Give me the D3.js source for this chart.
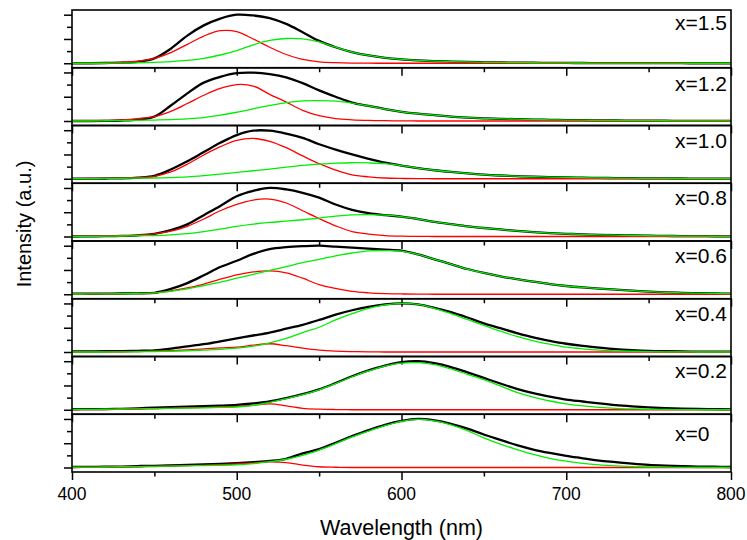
<!DOCTYPE html>
<html><head><meta charset="utf-8">
<script src="https://cdn.jsdelivr.net/npm/d3@7"></script>
<style>body{margin:0;background:#fff}svg{display:block}text{font-family:"Liberation Sans",Arial,sans-serif;fill:#000}</style>
</head><body><svg id="c" width="747" height="540"></svg>
<script>
const wavelength = [400,410,420,430,440,450,460,470,480,490,500,510,520,530,540,550,560,570,580,590,600,
  610,620,630,640,650,660,670,680,690,700,710,720,730,740,750,760,770,780,790,800];
const panelLabels = ["x=1.5","x=1.2","x=1.0","x=0.8","x=0.6","x=0.4","x=0.2","x=0"];
const xTickLabels = [400,500,600,700,800];
const xMinorTicks = [450,550,650,750];
const yMajorTicks = [0,0.5,1];
const yMinorTicks = [0.25,0.75];

// x = 1.5
const total_15 = [0,0,0.005,0.01,0.03,0.10,0.30,0.57,0.78,0.92,1.0,0.985,0.93,0.81,0.64,0.46,0.33,0.23,0.16,0.11,0.08,
  0.06,0.045,0.035,0.027,0.02,0.016,0.013,0.01,0.008,0.006,0.005,0.004,0.003,0.002,0.002,0.001,0.001,0,0,0];
const peak1_15 = [0,0.003,0.008,0.02,0.045,0.10,0.22,0.39,0.56,0.67,0.65,0.50,0.33,0.18,0.08,0.03,0.012,0.004,0.001,0,0,
  0,0,0,0,0,0,0,0,0,0,0,0,0,0,0,0,0,0,0,0];
const peak2_15 = [0,0,0,0.004,0.01,0.02,0.035,0.06,0.10,0.17,0.26,0.38,0.47,0.51,0.50,0.44,0.33,0.23,0.16,0.11,0.08,
  0.06,0.045,0.035,0.027,0.02,0.016,0.013,0.01,0.008,0.006,0.005,0.004,0.003,0.002,0.002,0.001,0.001,0,0,0];
// x = 1.2
const total_12 = [0,0,0.003,0.01,0.03,0.09,0.32,0.57,0.79,0.91,0.985,0.995,0.965,0.90,0.78,0.63,0.50,0.38,0.31,0.245,0.19,
  0.15,0.12,0.09,0.07,0.056,0.045,0.037,0.03,0.024,0.02,0.016,0.013,0.01,0.008,0.007,0.005,0.004,0.003,0.002,0.002];
const peak1_12 = [0.005,0.008,0.013,0.025,0.05,0.09,0.20,0.36,0.53,0.67,0.75,0.72,0.55,0.39,0.22,0.11,0.05,0.025,0.012,0.006,0.003,
  0,0,0,0,0,0,0,0,0,0,0,0,0,0,0,0,0,0,0,0];
const peak2_12 = [0,0,0.005,0.008,0.012,0.02,0.03,0.045,0.07,0.12,0.18,0.25,0.32,0.38,0.415,0.42,0.41,0.37,0.31,0.245,0.19,
  0.15,0.12,0.09,0.07,0.056,0.045,0.037,0.03,0.024,0.02,0.016,0.013,0.01,0.008,0.007,0.005,0.004,0.003,0.002,0.002];
// x = 1.0
const total_10 = [0,0.002,0.005,0.01,0.025,0.06,0.19,0.36,0.55,0.74,0.90,0.99,0.99,0.93,0.84,0.71,0.60,0.50,0.41,0.33,0.27,
  0.22,0.175,0.14,0.11,0.085,0.067,0.053,0.042,0.034,0.028,0.022,0.018,0.014,0.011,0.008,0.006,0.005,0.004,0.003,0.002];
const peak1_10 = [0.003,0.005,0.008,0.013,0.025,0.05,0.14,0.30,0.49,0.66,0.79,0.83,0.77,0.64,0.47,0.31,0.18,0.08,0.04,0.015,0.006,
  0.002,0,0,0,0,0,0,0,0,0,0,0,0,0,0,0,0,0,0,0];
const peak2_10 = [0,0.003,0.006,0.01,0.012,0.015,0.025,0.04,0.065,0.095,0.13,0.165,0.20,0.24,0.275,0.30,0.32,0.33,0.325,0.31,0.27,
  0.22,0.175,0.14,0.11,0.085,0.067,0.053,0.042,0.034,0.028,0.022,0.018,0.014,0.011,0.008,0.006,0.005,0.004,0.003,0.002];
// x = 0.8
const total_08 = [0,0.003,0.006,0.012,0.025,0.056,0.13,0.25,0.44,0.63,0.83,0.94,1.0,0.97,0.90,0.80,0.66,0.55,0.48,0.44,0.41,
  0.36,0.30,0.255,0.21,0.175,0.145,0.115,0.09,0.07,0.056,0.044,0.034,0.027,0.021,0.015,0.012,0.009,0.007,0.005,0.004];
const peak1_08 = [0.003,0.005,0.01,0.015,0.03,0.056,0.11,0.21,0.36,0.53,0.66,0.75,0.77,0.69,0.53,0.37,0.22,0.10,0.05,0.02,0.008,
  0.003,0,0,0,0,0,0,0,0,0,0,0,0,0,0,0,0,0,0,0];
const peak2_08 = [0,0.003,0.006,0.01,0.015,0.02,0.035,0.06,0.10,0.15,0.21,0.255,0.29,0.315,0.345,0.38,0.42,0.445,0.45,0.44,0.41,
  0.36,0.30,0.255,0.21,0.175,0.145,0.115,0.09,0.07,0.056,0.044,0.034,0.027,0.021,0.015,0.012,0.009,0.007,0.005,0.004];
// x = 0.6
const total_06 = [0.01,0.01,0.012,0.015,0.02,0.03,0.11,0.23,0.39,0.56,0.69,0.83,0.93,0.97,0.99,1.0,0.98,0.96,0.94,0.92,0.90,
  0.82,0.72,0.62,0.52,0.44,0.37,0.31,0.26,0.21,0.17,0.14,0.115,0.095,0.075,0.055,0.04,0.03,0.022,0.016,0.012];
const peak1_06 = [0.005,0.006,0.008,0.012,0.02,0.03,0.07,0.13,0.21,0.31,0.40,0.46,0.48,0.44,0.33,0.20,0.12,0.06,0.03,0.014,0.006,
  0.003,0,0,0,0,0,0,0,0,0,0,0,0,0,0,0,0,0,0,0];
const peak2_06 = [0.005,0.006,0.008,0.01,0.015,0.03,0.06,0.11,0.18,0.25,0.33,0.41,0.49,0.57,0.65,0.72,0.79,0.85,0.895,0.90,0.89,
  0.82,0.72,0.62,0.52,0.44,0.37,0.31,0.26,0.21,0.17,0.14,0.115,0.095,0.075,0.055,0.04,0.03,0.022,0.016,0.012];
// x = 0.4
const total_04 = [0.01,0.012,0.015,0.02,0.025,0.035,0.07,0.115,0.16,0.22,0.28,0.34,0.40,0.48,0.56,0.66,0.77,0.86,0.93,0.98,1.0,
  0.98,0.91,0.82,0.71,0.59,0.49,0.39,0.30,0.23,0.17,0.125,0.09,0.06,0.04,0.025,0.017,0.012,0.008,0.006,0.005];
const peak1_04 = [0,0,0.002,0.005,0.01,0.02,0.03,0.045,0.065,0.085,0.10,0.14,0.17,0.13,0.08,0.04,0.018,0.008,0.003,0,0,
  0,0,0,0,0,0,0,0,0,0,0,0,0,0,0,0,0,0,0,0];
const peak2_04 = [0,0,0,0.002,0.005,0.01,0.015,0.025,0.04,0.055,0.08,0.12,0.19,0.28,0.40,0.51,0.66,0.79,0.90,0.97,1.0,
  0.98,0.90,0.79,0.67,0.55,0.43,0.32,0.23,0.16,0.10,0.065,0.04,0.025,0.015,0.008,0.004,0.002,0,0,0];
// x = 0.2
const total_02 = [0.01,0.012,0.014,0.02,0.03,0.045,0.055,0.065,0.075,0.085,0.10,0.13,0.17,0.24,0.32,0.42,0.55,0.69,0.81,0.91,0.98,
  1.0,0.96,0.88,0.77,0.655,0.54,0.43,0.34,0.27,0.21,0.17,0.13,0.095,0.07,0.05,0.035,0.025,0.018,0.012,0.008];
const peak1_02 = [0,0.002,0.005,0.01,0.015,0.02,0.03,0.04,0.05,0.06,0.07,0.09,0.12,0.08,0.03,0.012,0.004,0,0,0,0,
  0,0,0,0,0,0,0,0,0,0,0,0,0,0,0,0,0,0,0,0];
const peak2_02 = [0.005,0.007,0.01,0.015,0.02,0.025,0.03,0.035,0.04,0.048,0.057,0.09,0.15,0.23,0.31,0.41,0.54,0.68,0.80,0.90,0.96,
  0.97,0.93,0.84,0.73,0.62,0.49,0.36,0.26,0.18,0.12,0.08,0.05,0.03,0.018,0.01,0.006,0.003,0,0,0];
// x = 0
const total_00 = [0.01,0.012,0.015,0.02,0.03,0.035,0.045,0.055,0.065,0.075,0.09,0.11,0.135,0.18,0.29,0.38,0.51,0.645,0.77,0.88,0.96,
  1.0,0.97,0.90,0.80,0.68,0.57,0.46,0.37,0.30,0.24,0.19,0.14,0.11,0.08,0.055,0.04,0.03,0.02,0.015,0.01];
const peak1_00 = [0,0.003,0.006,0.01,0.015,0.02,0.03,0.04,0.05,0.06,0.075,0.095,0.115,0.10,0.05,0.015,0.005,0,0,0,0,
  0,0,0,0,0,0,0,0,0,0,0,0,0,0,0,0,0,0,0,0];
const peak2_00 = [0.005,0.007,0.01,0.015,0.02,0.025,0.03,0.035,0.04,0.045,0.055,0.08,0.12,0.17,0.25,0.36,0.49,0.63,0.75,0.86,0.95,
  0.99,0.96,0.88,0.76,0.61,0.48,0.37,0.27,0.19,0.13,0.085,0.055,0.035,0.02,0.01,0.006,0.003,0,0,0];

const panels = [
  {label: panelLabels[0], total: total_15, p1: peak1_15, p2: peak2_15},
  {label: panelLabels[1], total: total_12, p1: peak1_12, p2: peak2_12},
  {label: panelLabels[2], total: total_10, p1: peak1_10, p2: peak2_10},
  {label: panelLabels[3], total: total_08, p1: peak1_08, p2: peak2_08},
  {label: panelLabels[4], total: total_06, p1: peak1_06, p2: peak2_06},
  {label: panelLabels[5], total: total_04, p1: peak1_04, p2: peak2_04},
  {label: panelLabels[6], total: total_02, p1: peak1_02, p2: peak2_02},
  {label: panelLabels[7], total: total_00, p1: peak1_00, p2: peak2_00}
];

// layout
const plotLeft = 72, plotRight = 731, plotTop = 10, plotBottom = 472;
const ph = (plotBottom - plotTop) / panels.length;
const labelDy = [19.5, 23, 22, 22, 22, 22, 21, 26.5];
const svg = d3.select("#c");
const x = d3.scaleLinear().domain([400, 800]).range([plotLeft, plotRight]);

panels.forEach((p, i) => {
  const y0 = plotTop + i * ph, y1 = y0 + ph;
  const y = d3.scaleLinear().domain([0, 1]).range([y1 - 4.5, y0 + 4.7]);
  const g = svg.append("g");
  const line = d3.line().x((d, j) => x(wavelength[j])).y(d => y(d)).curve(d3.curveCatmullRom.alpha(0.5));
  g.append("path").attr("d", line(p.total)).attr("fill", "none").attr("stroke", "#000").attr("stroke-width", 2.3);
  g.append("path").attr("d", line(p.p1)).attr("fill", "none").attr("stroke", "#ff0000").attr("stroke-width", 1.3);
  g.append("path").attr("d", line(p.p2)).attr("fill", "none").attr("stroke", "#00ee00").attr("stroke-width", 1.3);

  g.append("rect").attr("x", plotLeft).attr("y", y0).attr("width", plotRight - plotLeft).attr("height", ph)
    .attr("fill", "none").attr("stroke", "#000").attr("stroke-width", 1.6);

  const yMaj = g.append("g").attr("transform", `translate(${plotLeft},0)`)
    .call(d3.axisLeft(y).tickValues(yMajorTicks).tickSize(8).tickFormat(""));
  const yMin = g.append("g").attr("transform", `translate(${plotLeft},0)`)
    .call(d3.axisLeft(y).tickValues(yMinorTicks).tickSize(5).tickFormat(""));
  const xMaj = g.append("g").attr("transform", `translate(0,${y1})`)
    .call(d3.axisBottom(x).tickValues(xTickLabels).tickSize(8).tickFormat(""));
  const xMin = g.append("g").attr("transform", `translate(0,${y1})`)
    .call(d3.axisBottom(x).tickValues(xMinorTicks).tickSize(4.5).tickFormat(""));
  [yMaj, yMin, xMaj, xMin].forEach(a => {
    a.select(".domain").remove();
    a.selectAll("line").attr("stroke", "#000").attr("stroke-width", 1.5);
  });

  g.append("text").attr("x", 675).attr("y", y0 + labelDy[i])
    .attr("font-size", 21).text(p.label);
});

svg.append("g").selectAll("text").data(xTickLabels).join("text")
  .attr("x", d => x(d)).attr("y", 499.5).attr("text-anchor", "middle")
  .attr("font-size", 17.5).text(d => d);

svg.append("text").attr("x", (plotLeft + plotRight) / 2).attr("y", 534.5).attr("text-anchor", "middle")
  .attr("font-size", 21.5).text("Wavelength (nm)");
svg.append("text").attr("transform", "translate(31,224) rotate(-90)").attr("text-anchor", "middle")
  .attr("font-size", 20).text("Intensity (a.u.)");
</script></body></html>
